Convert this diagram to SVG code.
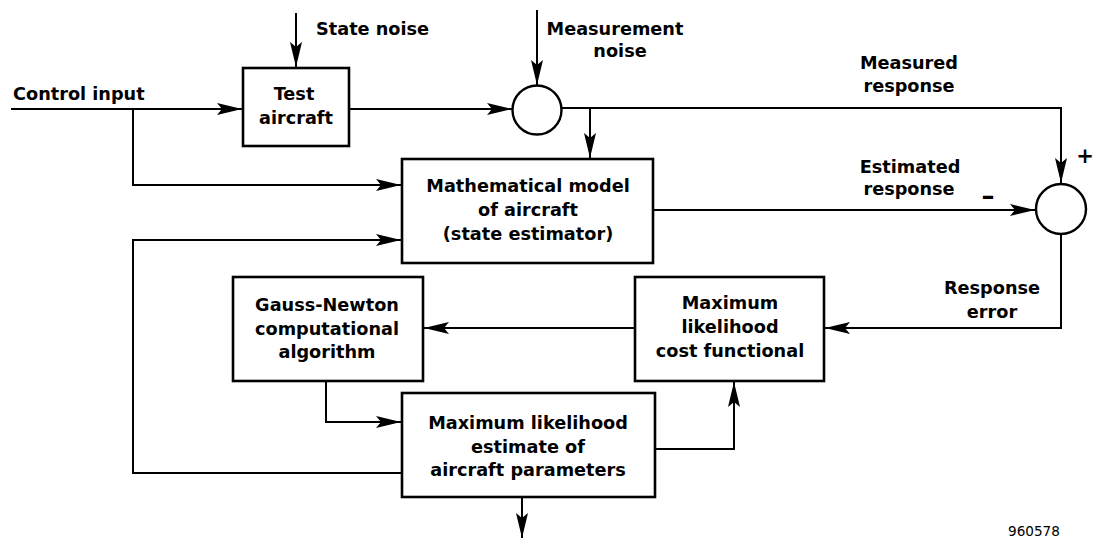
<svg xmlns="http://www.w3.org/2000/svg" width="1093" height="540" viewBox="0 0 1093 540">
  <style>
    .box { fill: #fff; stroke: #000; stroke-width: 2.6; }
    .sum { fill: #fff; stroke: #000; stroke-width: 2.4; }
    .wire { fill: none; stroke: #000; stroke-width: 2; marker-end: url(#arr); }
    text { font-family: "DejaVu Sans", "Liberation Sans", Arial, sans-serif; font-weight: bold; font-size: 17.7px; fill: #000; }
    .c { text-anchor: middle; }
    .num { font-weight: normal; font-size: 13.6px; }
    .sign { font-size: 26px; }
    .plus { font-size: 21px; }
  </style>
  <defs>
    <marker id="arr" markerUnits="userSpaceOnUse" markerWidth="26" markerHeight="14" refX="25" refY="7" orient="auto" viewBox="0 0 26 14">
      <path d="M0,1 L25,7 L0,13 L5,7 Z" fill="#000"/>
    </marker>
  </defs>
  <rect width="1093" height="540" fill="#fff"/>

  <g id="connectors">
    <path class="wire" d="M11,109 L242,109"/>
    <path class="wire" d="M133,109 L133,185 L401,185"/>
    <path class="wire" d="M296,13 L296,67"/>
    <path class="wire" d="M349,109 L512,109"/>
    <path class="wire" d="M537,10 L537,85"/>
    <path class="wire" d="M561,108 L1061,108 L1061,183"/>
    <path class="wire" d="M590,108 L590,158"/>
    <path class="wire" d="M653,210 L1035,210"/>
    <path class="wire" d="M1061,234 L1061,328 L825,328"/>
    <path class="wire" d="M635,328 L424,328"/>
    <path class="wire" d="M326,381 L326,422 L401,422"/>
    <path class="wire" d="M655,449 L734,449 L734,382"/>
    <path class="wire" d="M402,473 L133,473 L133,240 L401,240"/>
    <path class="wire" d="M522,497 L522,538"/>
  </g>

  <g id="test-aircraft">
    <rect class="box" x="243" y="68" width="106" height="78"/>
    <text class="c" x="294" y="100">Test</text>
    <text class="c" x="296" y="124">aircraft</text>
  </g>

  <g id="sum-measurement">
    <circle class="sum" cx="537" cy="110" r="24.5"/>
  </g>

  <g id="math-model">
    <rect class="box" x="402" y="159" width="251" height="104"/>
    <text class="c" x="528" y="192">Mathematical model</text>
    <text class="c" x="528" y="216">of aircraft</text>
    <text class="c" x="528" y="240">(state estimator)</text>
  </g>

  <g id="sum-error">
    <circle class="sum" cx="1061" cy="209" r="25"/>
  </g>

  <g id="gauss-newton">
    <rect class="box" x="233" y="277" width="190" height="104"/>
    <text class="c" x="327" y="311">Gauss-Newton</text>
    <text class="c" x="327" y="335">computational</text>
    <text class="c" x="327" y="358">algorithm</text>
  </g>

  <g id="ml-cost">
    <rect class="box" x="635" y="277" width="189" height="104"/>
    <text class="c" x="730" y="309">Maximum</text>
    <text class="c" x="730" y="333">likelihood</text>
    <text class="c" x="730" y="357">cost functional</text>
  </g>

  <g id="ml-estimate">
    <rect class="box" x="402" y="393" width="253" height="104"/>
    <text class="c" x="528" y="429">Maximum likelihood</text>
    <text class="c" x="528" y="453">estimate of</text>
    <text class="c" x="528" y="476">aircraft parameters</text>
  </g>

  <g id="labels">
    <text x="13" y="100">Control input</text>
    <text x="316" y="35">State noise</text>
    <text class="c" x="615" y="35">Measurement</text>
    <text class="c" x="620" y="57">noise</text>
    <text class="c" x="909" y="69">Measured</text>
    <text class="c" x="909" y="92">response</text>
    <text class="c" x="910" y="173">Estimated</text>
    <text class="c" x="909" y="195">response</text>
    <text class="c sign" x="988" y="205">–</text>
    <text class="c plus" x="1085" y="163">+</text>
    <text class="c" x="992" y="294">Response</text>
    <text class="c" x="992" y="318">error</text>
    <text class="num" x="1008" y="536">960578</text>
  </g>
</svg>
